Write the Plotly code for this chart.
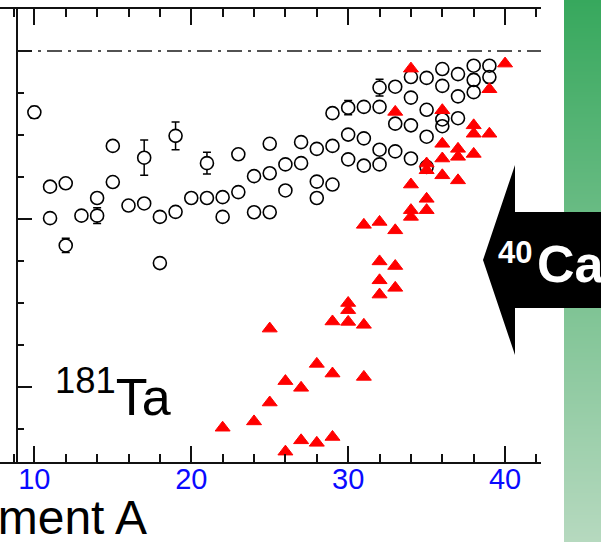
import plotly.graph_objects as go

# ---------------- data ----------------
circ_A = [10, 11, 11, 12, 12, 13, 14, 14, 15, 15, 16, 17, 17, 18, 18, 19, 19, 20, 21, 21,
          22, 22, 23, 23, 24, 24, 25, 25, 25, 26, 26, 27, 27, 28, 28, 28, 29, 29, 29,
          30, 30, 30, 31, 31, 31, 32, 32, 32, 32, 33, 33, 33, 34, 34, 34, 34,
          35, 35, 35, 35, 36, 36, 36, 36, 37, 37, 37, 38, 38, 38, 39, 39]
circ_v = [0.854, 0.677, 0.602, 0.685, 0.537, 0.608, 0.650, 0.608, 0.774, 0.688, 0.632,
          0.637, 0.746, 0.605, 0.495, 0.798, 0.617, 0.650, 0.650, 0.733, 0.652, 0.605,
          0.754, 0.664, 0.702, 0.616, 0.779, 0.709, 0.616, 0.730, 0.668, 0.783, 0.733,
          0.767, 0.689, 0.650, 0.852, 0.774, 0.682, 0.865, 0.801, 0.742, 0.867, 0.792,
          0.727, 0.913, 0.867, 0.765, 0.730, 0.915, 0.827, 0.761, 0.938, 0.889, 0.823,
          0.744, 0.936, 0.860, 0.796, 0.724, 0.957, 0.917, 0.837, 0.821, 0.945, 0.892,
          0.840, 0.965, 0.931, 0.902, 0.965, 0.938]
circ_err = [0.014, None, None, None, 0.017, None, None, 0.019, None, None, None,
            None, 0.042, 0.012, None, 0.033, None, None, None, 0.026, None, None,
            None, None, None, None, None, None, None, None, None, None, None,
            None, None, None, None, None, None, 0.017, None, None, None, None,
            None, 0.020, None, None, None, None, None, None, None, None, None,
            None, None, None, None, None, None, None, None, None, None, None,
            None, None, 0.014, None, None, 0.014]

tri_A = [22, 24, 25, 25, 26, 26, 27, 27, 28, 28, 29, 29, 29, 30, 30, 30, 31, 31, 31,
         32, 32, 32, 32, 33, 33, 33, 33, 34, 34, 34, 34, 35, 35, 35, 35,
         36, 36, 36, 36, 37, 37, 37, 38, 38, 38, 39, 39, 40]
tri_v = [0.103, 0.118, 0.339, 0.163, 0.214, 0.046, 0.198, 0.073, 0.255, 0.067,
         0.356, 0.232, 0.081, 0.400, 0.383, 0.355, 0.586, 0.348, 0.224,
         0.593, 0.499, 0.454, 0.420, 0.855, 0.573, 0.488, 0.436,
         0.958, 0.682, 0.621, 0.605, 0.732, 0.716, 0.648, 0.621,
         0.859, 0.779, 0.744, 0.704, 0.767, 0.748, 0.692, 0.823, 0.803, 0.755,
         0.909, 0.803, 0.970]

x_major = [10, 20, 30, 40]
x_minor = [8.7, 12, 14, 16, 18, 22, 24, 26, 28, 32, 34, 36, 38, 42]
x_labels = ["10", "20", "30", "40"]
ref_level = 1.0

strip_levels = [0, 1]

# ---------------- layout helpers ----------------
W, H = 601, 542
def fx(p):
    return p / W
def fy(p):
    return 1 - p / H

X_RANGE = [7.81, 42.29]
Y_RANGE = [0.0214, 1.1]
AX = '#111111'
FONT = "Liberation Sans, Arial, sans-serif"

fig = go.Figure()

# green gradient strip
fig.add_trace(go.Heatmap(z=[[strip_levels[0]] * 2, [strip_levels[1]] * 2], x=[0, 1], y=[0, 1],
                         colorscale=[[0, '#b6d9bf'], [1, '#37a85d']], zsmooth='best',
                         showscale=False, hoverinfo='skip', xaxis='x2', yaxis='y4'))

# white fills + error bars under circles
fig.add_trace(go.Scatter(x=circ_A, y=circ_v, mode='markers',
                         marker=dict(symbol='circle', size=12, color='white', line=dict(width=0)),
                         error_y=dict(type='data', array=circ_err, visible=True, color='black',
                                      thickness=1.5, width=4),
                         showlegend=False, hoverinfo='skip'))
# open circles
fig.add_trace(go.Scatter(x=circ_A, y=circ_v, mode='markers',
                         marker=dict(symbol='circle-open', size=13, color='black', line=dict(width=1.6)),
                         showlegend=False))
# red triangles
fig.add_trace(go.Scatter(x=tri_A, y=tri_v, mode='markers',
                         marker=dict(symbol='triangle-up', size=13, color='#ff0000',
                                     line=dict(color='#ff0000', width=1)),
                         showlegend=False))
# registers the label axis (no visible points)
fig.add_trace(go.Scatter(x=x_major, y=[None] * len(x_major), mode='markers',
                         xaxis='x3', yaxis='y', showlegend=False, hoverinfo='skip'))

def ypath(pts):
    s = "M" + " L".join(f"{fx(a):.5f},{fy(b):.5f}" for a, b in pts) + " Z"
    return s

arrow_pts = [(483, 260), (515, 165), (515, 212), (610, 212), (610, 308), (515, 308), (515, 355)]

shapes = [
    dict(type='line', xref='paper', yref='y', x0=fx(17), x1=fx(541), y0=ref_level, y1=ref_level,
         line=dict(color='#1a1a1a', width=1.7, dash='15px,6px,3px,6px'), layer='above'),
    dict(type='path', xref='paper', yref='paper', path=ypath(arrow_pts),
         fillcolor='black', line=dict(width=0), layer='above'),
]

annotations = [
    dict(text="Fragment A", xref='paper', yref='paper', x=fx(149), y=fy(517),
         xanchor='right', yanchor='middle', showarrow=False,
         font=dict(family=FONT, size=48, color='black')),
    dict(text="<sup>181</sup>Ta", xref='paper', yref='paper', x=fx(53), y=fy(428),
         xanchor='left', yanchor='bottom', showarrow=False,
         font=dict(family=FONT, size=52, color='black')),
    dict(text="<b>40</b>", xref='paper', yref='paper', x=fx(496), y=fy(272),
         xanchor='left', yanchor='bottom', showarrow=False,
         font=dict(family=FONT, size=31, color='white')),
    dict(text="<b>Ca</b>", xref='paper', yref='paper', x=fx(535), y=fy(295),
         xanchor='left', yanchor='bottom', showarrow=False,
         font=dict(family=FONT, size=52, color='white')),
]

ydom = [fy(462), fy(9)]
ybase = dict(range=Y_RANGE, domain=ydom, showgrid=False, zeroline=False, showticklabels=False,
             tick0=0.2, dtick=0.4, tickwidth=1.5, tickcolor=AX)

fig.update_layout(
    width=W, height=H, autosize=False,
    margin=dict(l=0, r=0, t=0, b=0, pad=0),
    paper_bgcolor='white', plot_bgcolor='white',
    showlegend=False,
    xaxis=dict(domain=[0, fx(541)], range=X_RANGE, anchor='y', showgrid=False, zeroline=False,
               showline=True, linecolor=AX, linewidth=1.6, mirror='ticks',
               tickmode='array', tickvals=x_major, showticklabels=False,
               ticks='inside', ticklen=16, tickwidth=1.5, tickcolor=AX,
               minor=dict(tickmode='array', tickvals=x_minor, ticks='inside', ticklen=8,
                          tickwidth=1.5, tickcolor=AX)),
    xaxis3=dict(overlaying='x', range=X_RANGE, anchor='free', position=fy(459), side='bottom',
                showgrid=False, zeroline=False, showline=False, ticks='',
                tickmode='array', tickvals=x_major, ticktext=x_labels,
                tickfont=dict(family=FONT, size=29, color='#0a0aff')),
    yaxis=dict(**ybase, anchor='free', position=fx(17), side='left',
               showline=True, linecolor=AX, linewidth=1.6,
               ticks='inside', ticklen=14,
               minor=dict(dtick=0.1, tick0=0, ticks='inside', ticklen=6, tickwidth=1.5, tickcolor=AX)),
    yaxis2=dict(**ybase, overlaying='y', anchor='free', position=fx(17), side='left',
                showline=False, ticks='outside', ticklen=15,
                minor=dict(dtick=0.1, tick0=0, ticks='outside', ticklen=8, tickwidth=1.5, tickcolor=AX)),
    yaxis3=dict(**ybase, overlaying='y', anchor='x', side='right',
                showline=True, linecolor=AX, linewidth=1.6,
                ticks='inside', ticklen=13,
                minor=dict(dtick=0.1, tick0=0, ticks='inside', ticklen=8, tickwidth=1.5, tickcolor=AX)),
    xaxis2=dict(domain=[fx(564), 1], range=[0, 1], anchor='y4', visible=False, fixedrange=True),
    yaxis4=dict(domain=[0, 1], range=[0, 1], anchor='x2', visible=False, fixedrange=True),
    shapes=shapes,
    annotations=annotations,
)

fig.write_html("out.html")
